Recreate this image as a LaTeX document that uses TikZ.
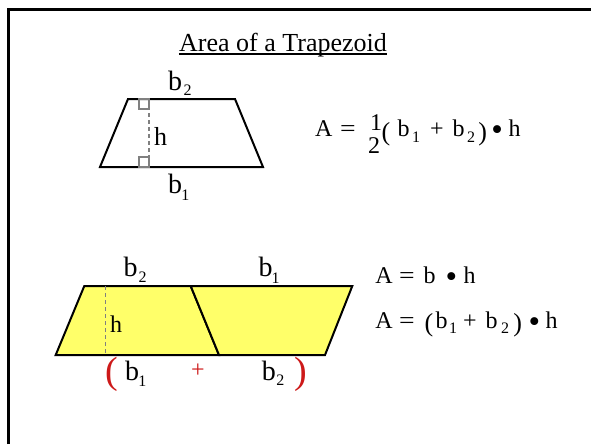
\documentclass[tikz,border=0pt]{standalone}
\usepackage{fontspec}
\setmainfont{Liberation Serif}
\usepackage{graphicx}
\definecolor{fillyel}{RGB}{255,255,105}
\definecolor{pred}{RGB}{205,25,25}
\definecolor{dgray}{RGB}{128,128,128}
\newcommand\fs[1]{\fontsize{#1}{#1}\selectfont}
\newcommand\atx[2]{\makebox[0pt][l]{\hspace{#1}#2}}
\newcommand\bul{\raisebox{-4.2pt}{\fs{33}•}}
\newcommand\sbx[1]{\raisebox{-5.5pt}{\fs{16}#1}}
\newcommand\bigp[1]{\raisebox{-3.5pt}{\fs{26}#1}}
\begin{document}
\begin{tikzpicture}[x=1pt,y=-1pt,
  lab/.style={inner sep=0pt, anchor=base west, font=\fs{28}},
  hlab/.style={inner sep=0pt, anchor=base west},
  sublab/.style={inner sep=0pt, anchor=base west, font=\fs{16}},
  formula/.style={inner sep=0pt, anchor=base west, font=\fs{24}},
  redlab/.style={inner sep=0pt, anchor=base west, text=pred},
  shapeline/.style={line width=2pt, line join=miter},
  hgt/.style={dgray, line width=1.3pt, dash pattern=on 4pt off 3pt},
  rightmark/.style={dgray, line width=1.3pt}]
\useasboundingbox (0,0) rectangle (591,444);

% frame
\coordinate (fbl) at (8,444);
\coordinate (ftl) at (8,10);
\coordinate (ftr) at (591,10);
\draw[line width=3pt] (fbl) -- (ftl) -- (ftr);

% title
\node[anchor=base, inner sep=0pt, font=\fs{26}] (title) at (283,51.5) {Area of a Trapezoid};
\draw[line width=1.3pt] ([yshift=-2.5pt]title.base west) -- ([yshift=-2.5pt]title.base east);

% trapezoid
\coordinate (t1) at (100,167);
\coordinate (t2) at (263,167);
\coordinate (t3) at (235,99);
\coordinate (t4) at (128,99);
\draw[shapeline] (t1) -- (t2) -- (t3) -- (t4) -- cycle;
\coordinate (th1) at (149,99);
\coordinate (th2) at (149,167);
\draw[hgt] (th1) -- (th2);
\draw[rightmark] (139,99) rectangle (149,109);
\draw[rightmark] (139,157) rectangle (149,167);
\node[lab] (tb2) at (168,90) {b};
\node[sublab] (tb2s) at (183.5,95) {2};
\node[lab] (tb1) at (168,193) {b};
\node[sublab] (tb1s) at (181.2,200) {1};
\node[hlab, font=\fs{26}] (th) at (154,145) {h};

% formula 1
\node[formula] (f1) at (314.5,136.7) {\atx{0pt}{A}\atx{24.8pt}{\scalebox{1.15}[1]{=}}\atx{54.8pt}{\raisebox{6.7pt}{1}}\atx{52.8pt}{\raisebox{-16.3pt}{2}}\atx{66.3pt}{\bigp{(}}\atx{82.5pt}{b}\atx{97pt}{\sbx{1}}\atx{114.8pt}{+}\atx{137.5pt}{b}\atx{152pt}{\sbx{2}}\atx{163.2pt}{\bigp{)}}\atx{176.2pt}{\bul}\atx{193.3pt}{h}\hspace{208.5pt}};

% parallelograms
\coordinate (p1) at (55.7,355);
\coordinate (p2) at (219,355);
\coordinate (p3) at (190.7,286);
\coordinate (p4) at (84.3,286);
\coordinate (p5) at (352.3,286);
\coordinate (p6) at (325,355);
\filldraw[fill=fillyel, shapeline] (p1) -- (p2) -- (p3) -- (p4) -- cycle;
\filldraw[fill=fillyel, shapeline] (p3) -- (p5) -- (p6) -- (p2) -- cycle;
\coordinate (ph1) at (105.7,286);
\coordinate (ph2) at (105.7,355);
\draw[hgt] (ph1) -- (ph2);
\node[hlab, font=\fs{24}] (ph) at (110,332.7) {h};
\node[lab] (pb2) at (123.3,276.7) {b};
\node[sublab] (pb2s) at (138.5,282) {2};
\node[lab] (pb1) at (258.3,276.7) {b};
\node[sublab] (pb1s) at (271.5,283.3) {1};
\node[redlab, font=\fs{38}] (lp) at (104.9,383) {(};
\node[lab] (qb1) at (125,380) {b};
\node[sublab] (qb1s) at (138.2,386.7) {1};
\node[redlab, font=\fs{24}] (plus) at (191,377.7) {+};
\node[lab] (qb2) at (261.7,380) {b};
\node[sublab] (qb2s) at (276.2,385) {2};
\node[redlab, font=\fs{38}] (rp) at (294.5,383) {)};

% formulas right
\node[formula] (f2) at (374.6,283.3) {\atx{0pt}{A}\atx{23.7pt}{\scalebox{1.15}[1]{=}}\atx{48.4pt}{b}\atx{70.4pt}{\bul}\atx{88.2pt}{h}\hspace{103pt}};
\node[formula] (f3) at (374.6,328) {\atx{0pt}{A}\atx{23.7pt}{\scalebox{1.15}[1]{=}}\atx{49.2pt}{\bigp{(}}\atx{60.4pt}{b}\atx{73.8pt}{\sbx{1}}\atx{87.7pt}{+}\atx{110.4pt}{b}\atx{125.9pt}{\sbx{2}}\atx{138.1pt}{\bigp{)}}\atx{153.4pt}{\bul}\atx{170.2pt}{h}\hspace{186pt}};
\end{tikzpicture}
\end{document}
